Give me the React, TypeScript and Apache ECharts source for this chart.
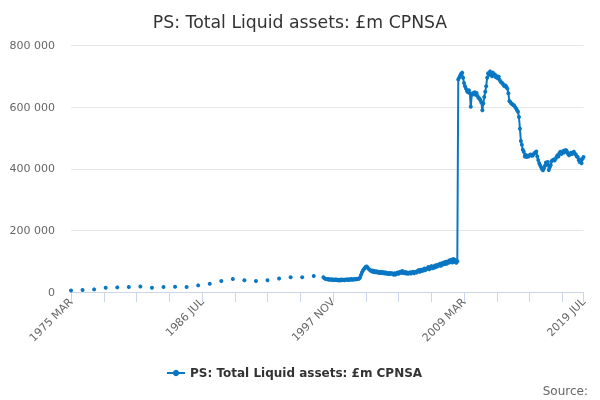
import React, { useEffect, useRef } from "react";
import * as echarts from "echarts";

const TITLE = "PS: Total Liquid assets: £m CPNSA";
const SERIES_NAME = "PS: Total Liquid assets: £m CPNSA";
const MONTHS = ["JAN", "FEB", "MAR", "APR", "MAY", "JUN", "JUL", "AUG", "SEP", "OCT", "NOV", "DEC"];

// Annual (March) observations 1975..1996
const annualYears = [1975, 1976, 1977, 1978, 1979, 1980, 1981, 1982, 1983, 1984, 1985, 1986, 1987, 1988, 1989, 1990, 1991, 1992, 1993, 1994, 1995, 1996];
const annualMarchValues = [5000, 6500, 8500, 14000, 15000, 16000, 18000, 14000, 16000, 17000, 16000, 21500, 27000, 36000, 42000, 38000, 36000, 38000, 44000, 48000, 48000, 52000];

// Monthly observations from 1997 JAN to 2019 JUL
const monthlyStart = "1997 JAN";
const monthlyValues = [
  48000, 45000, 43000, 42000, 41000, 42500, 40000, 41500, 40000, 41000, 38500, 40500,
  39000, 41000, 38500, 39500, 37500, 39500, 38000, 40500, 38500, 40000, 38000, 40500,
  39500, 41000, 39000, 41500, 39500, 42000, 40000, 41500, 40500, 42500, 41000, 43000,
  42000, 43500, 46000, 55000, 63000, 70000, 74000, 78000, 82000, 83000, 79000, 75000,
  72000, 70000, 67000, 70000, 65000, 68000, 64000, 67000, 63000, 66000, 62000, 65000,
  62000, 65000, 61000, 64000, 60000, 63000, 59000, 62000, 58000, 62000, 59000, 61000,
  59000, 56000, 61000, 57000, 60000, 63000, 59000, 64000, 66000, 62000, 68000, 64000,
  61000, 65000, 60000, 63000, 59000, 62000, 64000, 60000, 63000, 66000, 61000, 64000,
  66000, 63000, 69000, 71000, 66000, 72000, 68000, 73000, 70000, 76000, 71000, 75000,
  76000, 81000, 74000, 80000, 84000, 77000, 83000, 79000, 86000, 81000, 88000, 84000,
  87000, 92000, 85000, 93000, 89000, 96000, 91000, 98000, 92000, 99000, 95000, 103000,
  97000, 105000, 96000, 107000, 98000, 104000, 95000, 100000, 690000, 696000, 703000, 708000,
  712000, 695000, 678000, 668000, 660000, 652000, 648000, 655000, 645000, 601000, 640000, 645000,
  642000, 648000, 640000, 646000, 636000, 630000, 628000, 622000, 615000, 590000, 612000, 633000,
  650000, 668000, 695000, 710000, 705000, 716000, 708000, 700000, 712000, 703000, 706000, 697000,
  700000, 694000, 699000, 688000, 682000, 680000, 677000, 672000, 668000, 670000, 665000, 660000,
  645000, 620000, 617000, 612000, 610000, 607000, 605000, 600000, 596000, 590000, 585000, 568000,
  530000, 490000, 478000, 462000, 455000, 440000, 445000, 438000, 442000, 440000, 444000, 446000,
  444000, 442000, 446000, 450000, 453000, 456000, 440000, 428000, 418000, 411000, 405000, 398000,
  395000, 402000, 410000, 420000, 414000, 422000, 396000, 405000, 412000, 425000, 428000, 430000,
  427000, 432000, 438000, 444000, 440000, 450000, 455000, 448000, 452000, 458000, 453000, 460000,
  460000, 455000, 448000, 444000, 449000, 452000, 448000, 452000, 455000, 449000, 446000, 440000,
  438000, 428000, 422000, 430000, 418000, 432000, 438000,
];

const yTicks = [0, 200000, 400000, 600000, 800000];

// Category labels: every month from 1975 MAR to 2019 JUL
const categories: string[] = [];
for (let y = 1975; y <= 2019; y++) {
  for (let m = 0; m < 12; m++) {
    if (y === 1975 && m < 2) continue;
    if (y === 2019 && m > 6) break;
    categories.push(`${y} ${MONTHS[m]}`);
  }
}

const FONT = "DejaVu Sans";
const COLOR = "#0a77c4";

export default function App() {
  const ref = useRef<HTMLDivElement>(null);
  useEffect(() => {
    if (!ref.current) return;
    const chart = echarts.init(ref.current, null, { renderer: "svg" });
    const data: (number | null)[] = categories.map(() => null);
    annualYears.forEach((yr, i) => {
      const idx = categories.indexOf(`${yr} MAR`);
      if (idx >= 0) data[idx] = annualMarchValues[i];
    });
    const start = categories.indexOf(monthlyStart);
    monthlyValues.forEach((v, j) => {
      data[start + j] = v;
    });
    const last = categories.length - 1;
    chart.setOption({
      animation: false,
      title: {
        text: TITLE,
        left: "center",
        top: 8,
        textStyle: { fontFamily: FONT, fontSize: 17.3, fontWeight: "normal", color: "#333333" },
      },
      legend: {
        data: [SERIES_NAME],
        left: 161,
        top: 362,
        itemWidth: 18,
        itemHeight: 8,
        textStyle: { fontFamily: FONT, fontSize: 12, fontWeight: "bold", color: "#333333" },
      },
      graphic: [
        {
          type: "text",
          right: 12,
          top: 385,
          style: { text: "Source:", fontFamily: FONT, fontSize: 12, fill: "#666666" },
        },
      ],
      grid: { left: 71, right: 16.5, top: 45.5, bottom: 108 },
      xAxis: {
        type: "category",
        data: categories,
        boundaryGap: false,
        axisLine: { show: true, lineStyle: { color: "#ccd6eb" } },
        axisTick: {
          show: true,
          length: 10,
          lineStyle: { color: "#ccd6eb" },
          interval: (index: number) => index % 34 === 0 || index === last,
        },
        axisLabel: {
          rotate: 45,
          fontFamily: FONT,
          fontSize: 11,
          color: "#666666",
          margin: 8,
          interval: (index: number) => index % 136 === 0 || index === last,
        },
        splitLine: { show: false },
      },
      yAxis: {
        type: "value",
        min: yTicks[0],
        max: yTicks[yTicks.length - 1],
        interval: 200000,
        axisLine: { show: false },
        axisTick: { show: false },
        axisLabel: {
          fontFamily: FONT,
          fontSize: 11,
          color: "#666666",
          margin: 16,
          formatter: (v: number) => String(v).replace(/\B(?=(\d{3})+(?!\d))/g, " "),
        },
        splitLine: { lineStyle: { color: "#e6e6e6" } },
      },
      series: [
        {
          name: SERIES_NAME,
          type: "line",
          data,
          connectNulls: false,
          showSymbol: true,
          showAllSymbol: true,
          symbol: "circle",
          symbolSize: 4,
          lineStyle: { width: 2, color: COLOR },
          itemStyle: { color: COLOR },
        },
      ],
    });
    return () => chart.dispose();
  }, []);
  return (
    <div
      ref={ref}
      style={{ position: "fixed", left: 0, top: 0, width: 600, height: 400 }}
    />
  );
}
